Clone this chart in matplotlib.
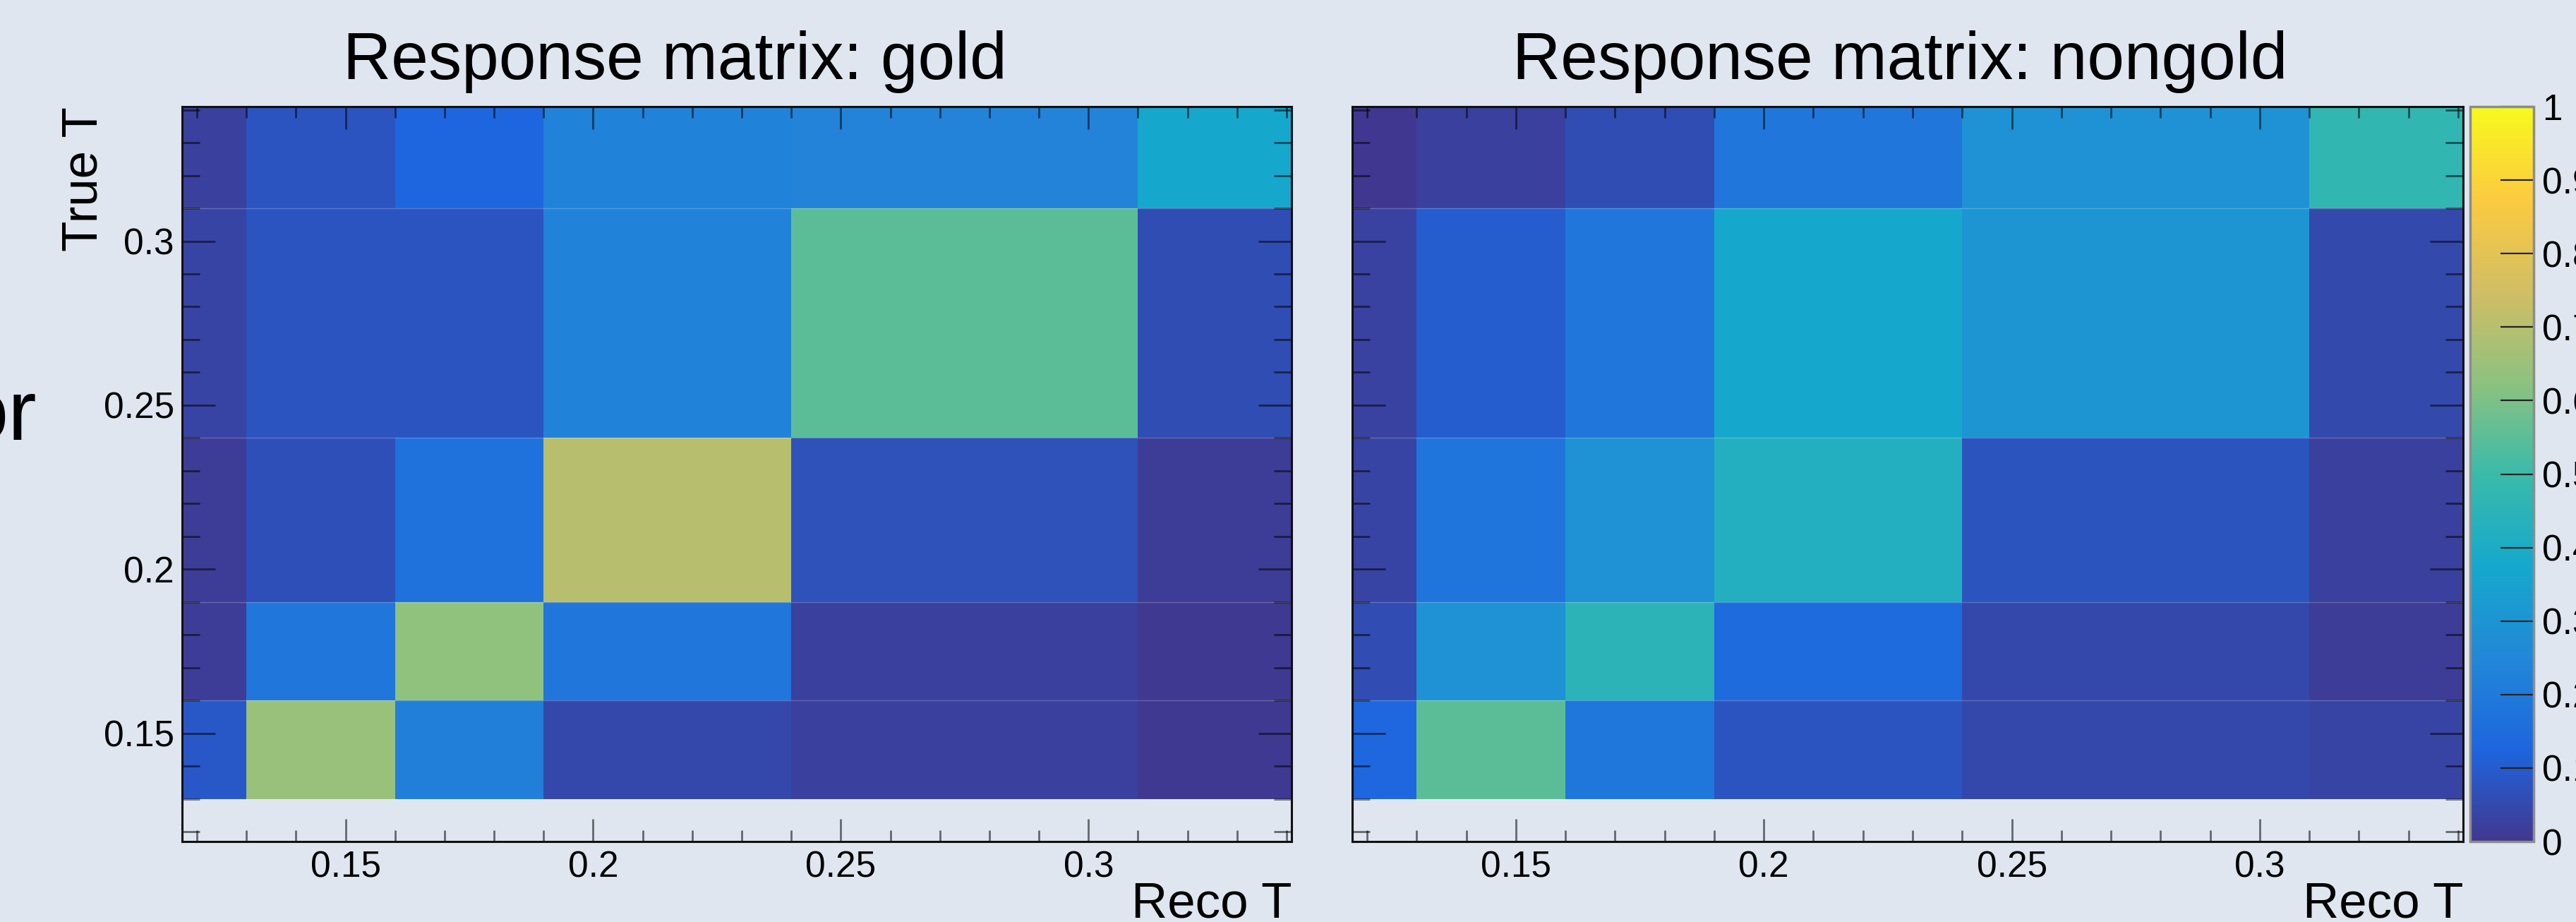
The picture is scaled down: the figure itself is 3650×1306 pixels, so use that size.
import numpy as np
import matplotlib
matplotlib.use("Agg")
import matplotlib.pyplot as plt
from matplotlib.colors import LinearSegmentedColormap, to_rgb
from matplotlib.ticker import MultipleLocator, FuncFormatter

plt.rcParams['font.family'] = ['Liberation Sans', 'DejaVu Sans']

# ---------------- data ----------------
x_edges = [0.117, 0.13, 0.16, 0.19, 0.24, 0.31, 0.341]   # Reco T bins
y_edges = [0.117, 0.13, 0.16, 0.19, 0.24, 0.31, 0.341]   # True T bins

# rows listed from bottom (lowest True T) to top
gold_row0 = [0.0, 0.0, 0.0, 0.0, 0.0, 0.0]
gold_row1 = [0.088, 0.645, 0.22, 0.045, 0.025, 0.005]
gold_row2 = [0.015, 0.185, 0.63, 0.185, 0.025, 0.005]
gold_row3 = [0.015, 0.065, 0.17, 0.70, 0.07, 0.015]
gold_row4 = [0.035, 0.08, 0.08, 0.23, 0.55, 0.06]
gold_row5 = [0.025, 0.08, 0.125, 0.23, 0.235, 0.37]

nongold_row0 = [0.0, 0.0, 0.0, 0.0, 0.0, 0.0]
nongold_row1 = [0.13, 0.55, 0.19, 0.08, 0.045, 0.035]
nongold_row2 = [0.055, 0.29, 0.45, 0.145, 0.045, 0.015]
nongold_row3 = [0.035, 0.18, 0.29, 0.42, 0.078, 0.025]
nongold_row4 = [0.03, 0.10, 0.185, 0.37, 0.30, 0.047]
nongold_row5 = [0.003, 0.025, 0.06, 0.185, 0.29, 0.47]

titles = ["Response matrix: gold", "Response matrix: nongold"]
xlabel = "Reco T"
ylabel = "True T"
cbar_ticks = [0.0, 0.1, 0.2, 0.3, 0.4, 0.5, 0.6, 0.7, 0.8, 0.9, 1.0]

# ROOT kBird palette
bird_stops = [0.0000, 0.1250, 0.2500, 0.3750, 0.5000, 0.6250, 0.7500, 0.8750, 1.0000]
bird_red = [0.2082, 0.0592, 0.0780, 0.0232, 0.1802, 0.5301, 0.8186, 0.9956, 0.9764]
bird_green = [0.1664, 0.3599, 0.5041, 0.6419, 0.7178, 0.7492, 0.7328, 0.7862, 0.9832]
bird_blue = [0.5293, 0.8684, 0.8385, 0.7914, 0.6425, 0.4662, 0.3499, 0.1968, 0.0539]

bg = '#dfe6ef'
bg_rgb = to_rgb(bg)
opacity = 0.93  # the palette appears slightly washed over the slide background


def washed(vals, k):
    return [opacity * v + (1 - opacity) * bg_rgb[k] for v in vals]


cmap = LinearSegmentedColormap('kBird', {
    'red': [(s, c, c) for s, c in zip(bird_stops, washed(bird_red, 0))],
    'green': [(s, c, c) for s, c in zip(bird_stops, washed(bird_green, 1))],
    'blue': [(s, c, c) for s, c in zip(bird_stops, washed(bird_blue, 2))],
}, N=512)

gold = np.array([gold_row0, gold_row1, gold_row2, gold_row3, gold_row4, gold_row5])
nongold = np.array([nongold_row0, nongold_row1, nongold_row2, nongold_row3, nongold_row4, nongold_row5])

# ---------------- figure ----------------
W, H = 3650, 1306
fig = plt.figure(figsize=(W / 100, H / 100), dpi=100, facecolor=bg)


def frac(x0, y0, x1, y1):
    return [x0 / W, 1 - y1 / H, (x1 - x0) / W, (y1 - y0) / H]


ax1 = fig.add_axes(frac(258, 151, 1830, 1192))
ax2 = fig.add_axes(frac(1916, 151, 3490, 1192))
cax = fig.add_axes(frac(3500, 151, 3590, 1192))

tick_col = (0, 0, 0, 0.55)
fmt = FuncFormatter(lambda v, p: f"{round(v, 3):g}")

mesh = None
for ax, data, show_y in [(ax1, gold, True), (ax2, nongold, False)]:
    ax.set_facecolor(bg)
    mesh = ax.pcolormesh(x_edges, y_edges, np.ma.masked_equal(data, 0.0),
                         cmap=cmap, vmin=0, vmax=1, shading='flat',
                         edgecolors='face', linewidth=0)
    for yb in y_edges[1:-1]:
        ax.axhline(yb, color='white', alpha=0.22, lw=1.0, zorder=2)
    ax.set_xlim(x_edges[0], x_edges[-1])
    ax.set_ylim(y_edges[0], y_edges[-1])
    ax.xaxis.set_major_locator(MultipleLocator(0.05))
    ax.xaxis.set_minor_locator(MultipleLocator(0.01))
    ax.yaxis.set_major_locator(MultipleLocator(0.05))
    ax.yaxis.set_minor_locator(MultipleLocator(0.01))
    ax.xaxis.set_major_formatter(fmt)
    ax.yaxis.set_major_formatter(fmt)
    ax.tick_params(axis='x', which='major', direction='in', length=23, width=2,
                   color=tick_col, top=True, bottom=True, labelsize=37, pad=9)
    ax.tick_params(axis='x', which='minor', direction='in', length=11.5, width=2,
                   color=tick_col, top=True, bottom=True)
    ax.tick_params(axis='y', which='major', direction='in', length=34, width=2,
                   color=tick_col, left=True, right=True, labelsize=37, pad=8,
                   labelleft=show_y)
    ax.tick_params(axis='y', which='minor', direction='in', length=18, width=2,
                   color=tick_col, left=True, right=True)
    for sp in ax.spines.values():
        sp.set_linewidth(2.2)
        sp.set_color('#111111')
        sp.set_zorder(5)
    ax.text(1.0, (1192 - 1299) / 1041, xlabel, transform=ax.transAxes,
            ha='right', va='baseline', fontsize=51)

ax1.text((120 - 258) / 1572, 1.0, ylabel, transform=ax1.transAxes,
         rotation=90, ha='center', va='top', fontsize=51)

fig.text(956 / W, 1 - 112 / H, titles[0], ha='center', va='baseline', fontsize=68)
fig.text(2692 / W, 1 - 112 / H, titles[1], ha='center', va='baseline', fontsize=68)

# partially visible text at the left border of the slide
fig.text(52 / W, 1 - 623 / H, "or", ha='right', va='baseline', fontsize=87)

cb = fig.colorbar(mesh, cax=cax, ticks=cbar_ticks)
cb.ax.yaxis.set_major_formatter(FuncFormatter(lambda v, p: f"{round(v, 2):g}"))
cb.ax.tick_params(direction='in', length=34, width=1.6, color='#222222',
                  labelsize=37, pad=9, right=True, left=False)
cb.outline.set_edgecolor('#8c8c8c')
cb.outline.set_linewidth(2.5)

fig.savefig("out.png", dpi=100, facecolor=bg)
